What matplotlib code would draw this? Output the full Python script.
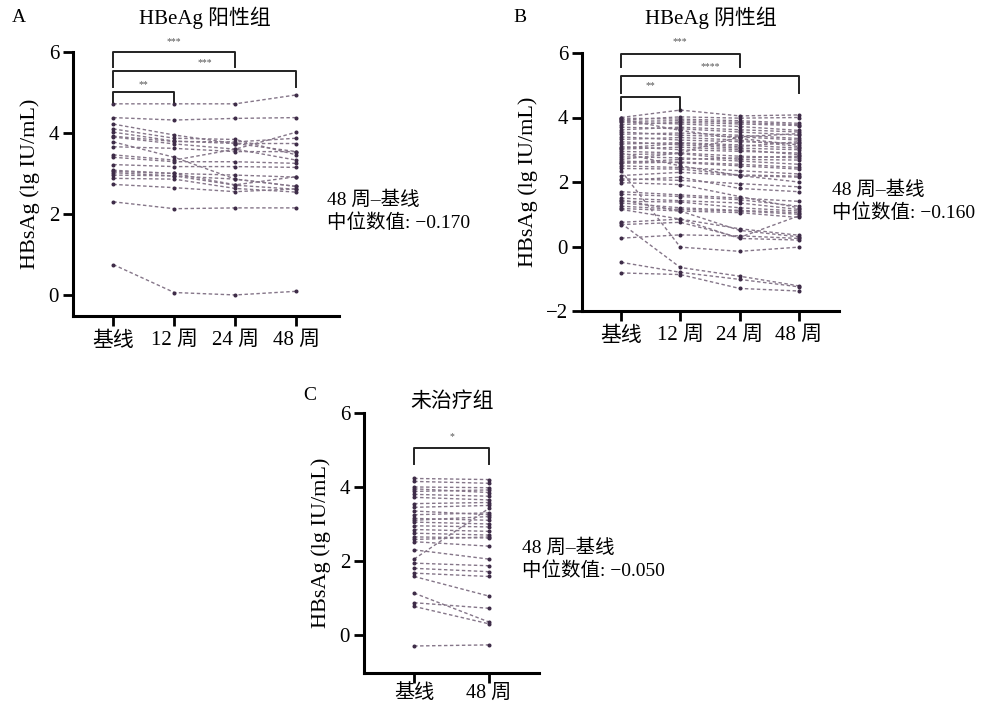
import numpy as np
import matplotlib
matplotlib.use("Agg")
import matplotlib.pyplot as plt

plt.rcParams['font.family'] = ['Liberation Serif', 'Noto Sans CJK SC']
plt.rcParams['axes.unicode_minus'] = True

# ---- data (HBsAg, lg IU/mL) ----
labels_a = ["基线", "12 周", "24 周", "48 周"]
pos_a = [
    [4.72, 4.72, 4.72, 4.94],
    [4.38, 4.32, 4.36, 4.38],
    [4.22, 3.95, 3.74, 3.54],
    [4.10, 3.87, 3.84, 3.46],
    [4.02, 3.80, 3.74, 3.74],
    [3.92, 3.79, 3.78, 3.87],
    [3.90, 3.73, 3.60, 3.33],
    [3.78, 3.40, 2.86, 2.68],
    [3.66, 3.62, 3.54, 3.54],
    [3.46, 3.33, 3.60, 4.02],
    [3.40, 3.29, 3.29, 3.25],
    [3.22, 3.17, 3.17, 3.15],
    [3.08, 3.00, 2.96, 2.91],
    [3.05, 3.00, 2.72, 2.92],
    [3.02, 2.94, 2.71, 2.61],
    [2.96, 2.94, 2.86, 2.68],
    [2.88, 2.86, 2.63, 2.54],
    [2.73, 2.65, 2.55, 2.62],
    [2.30, 2.13, 2.15, 2.15],
    [0.75, 0.06, 0.00, 0.09],
]

labels_b = ["基线", "12 周", "24 周", "48 周"]
neg_b = [
    [4.00, 4.23, 4.05, 4.08],
    [3.98, 3.95, 3.90, 3.82],
    [3.95, 3.60, 3.35, 3.15],
    [3.92, 4.02, 3.98, 4.00],
    [3.88, 3.90, 3.85, 3.78],
    [3.85, 3.80, 3.72, 3.60],
    [3.78, 3.85, 3.80, 3.75],
    [3.70, 3.65, 3.55, 3.45],
    [3.62, 3.70, 3.62, 3.55],
    [3.55, 3.45, 3.40, 3.30],
    [3.48, 3.52, 3.45, 3.35],
    [3.40, 3.30, 3.25, 3.20],
    [3.32, 3.38, 3.30, 3.10],
    [3.25, 3.15, 3.05, 3.00],
    [3.18, 3.22, 3.15, 3.05],
    [3.10, 3.00, 2.95, 2.90],
    [3.05, 3.20, 3.10, 3.25],
    [3.02, 3.08, 3.00, 2.85],
    [2.95, 2.90, 2.80, 2.75],
    [2.90, 2.50, 2.20, 2.00],
    [2.85, 2.88, 2.70, 2.68],
    [2.78, 2.75, 2.65, 2.55],
    [2.70, 2.90, 3.40, 3.50],
    [2.65, 2.60, 2.50, 2.40],
    [2.60, 2.70, 2.75, 2.80],
    [2.58, 2.62, 2.55, 2.45],
    [2.50, 2.45, 2.35, 2.25],
    [2.42, 2.40, 2.22, 2.18],
    [2.35, -0.02, -0.15, -0.02],
    [2.20, 2.30, 2.20, 2.15],
    [2.10, 2.05, 1.95, 1.85],
    [2.05, 2.15, 1.80, 1.70],
    [1.98, 1.92, 1.55, 1.20],
    [1.70, 1.60, 1.50, 1.40],
    [1.62, 1.55, 1.45, 1.25],
    [1.50, 1.42, 1.35, 1.15],
    [1.45, 1.10, 0.50, 0.30],
    [1.40, 1.38, 1.20, 1.10],
    [1.35, 1.20, 1.12, 1.05],
    [1.25, 1.15, 1.10, 1.00],
    [1.18, 1.10, 1.05, 0.90],
    [1.15, 0.85, 0.25, 0.20],
    [0.75, 0.85, 0.55, 0.35],
    [0.72, -0.65, -0.92, -1.22],
    [0.68, 0.75, 0.28, 0.95],
    [0.26, 0.36, 0.33, 0.25],
    [-0.49, -0.80, -1.02, -1.25],
    [-0.82, -0.87, -1.30, -1.38],
]

labels_c = ["基线", "48 周"]
untreated_c = [
    [4.23, 4.20], [4.15, 4.10], [4.00, 3.98], [3.95, 3.85], [3.88, 3.92],
    [3.80, 3.75], [3.72, 3.65], [3.55, 3.58], [3.45, 3.50], [3.35, 3.25],
    [3.25, 3.30], [3.15, 3.10], [3.10, 3.20], [3.05, 3.00], [2.95, 2.92],
    [2.85, 2.80], [2.75, 2.70], [2.65, 2.62], [2.58, 2.65], [2.52, 2.40],
    [2.30, 2.05], [2.05, 3.42], [1.94, 1.87], [1.80, 1.71], [1.67, 1.58],
    [1.58, 1.05], [1.13, 0.35], [0.87, 0.72], [0.77, 0.30], [-0.30, -0.27],
]

titles = ["HBeAg 阳性组", "HBeAg 阴性组", "未治疗组"]
medians = ["−0.170", "−0.160", "−0.050"]

# brackets: (i, j, top, leg_bottom, stars, star_y)
brackets_a = [(0, 2, 6.0, 5.63, "***", 6.25), (0, 3, 5.54, 5.14, "***", 5.73),
              (0, 1, 5.02, 4.77, "**", 5.19)]
brackets_b = [(0, 2, 5.96, 5.57, "***", 6.35), (0, 3, 5.29, 4.77, "****", 5.58),
              (0, 1, 4.63, 4.23, "**", 4.98)]
brackets_c = [(0, 1, 5.05, 4.62, "*", 5.35)]

W, H = 981, 704
fig = plt.figure(figsize=(W / 100, H / 100), dpi=100)

line_col = "#857689"
dot_col = "#3e2c48"
FS = 15


def px_axes(l, r, t, b):
    return fig.add_axes([l / W, 1 - b / H, (r - l) / W, (b - t) / H])


def draw_panel(ax, data, labels, brackets, ylim, xlim, yticks, xpad=4, xfs=FS):
    data = np.array(data)
    x = np.arange(data.shape[1])
    for row in data:
        ax.plot(x, row, ls=(0, (2.5, 1.8)), lw=1.0, color=line_col,
                marker="o", ms=1.9, mfc=dot_col, mec=dot_col, zorder=2)
    for i, j, top, leg, stars, sy in brackets:
        ax.plot([i, i, j, j], [leg, top, top, leg], color="#222222", lw=1.4,
                clip_on=False, zorder=3)
        ax.text((i + j) / 2, sy, stars, ha="center", va="center",
                fontsize=7, color="#555555")
    ax.set_xlim(*xlim)
    ax.set_ylim(*ylim)
    ax.set_xticks(x)
    ax.set_yticks(yticks)
    ax.tick_params(axis="both", labelsize=FS, width=2, length=7,
                   direction="out", pad=3)
    ax.set_xticklabels(labels, fontsize=xfs)
    ax.tick_params(axis="x", pad=xpad)
    for s in ["top", "right"]:
        ax.spines[s].set_visible(False)
    for s in ["left", "bottom"]:
        ax.spines[s].set_linewidth(2.2)
    ax.set_ylabel("HBsAg (lg IU/mL)", fontsize=16, labelpad=6)


ax_a = px_axes(73, 339, 52, 316)
draw_panel(ax_a, pos_a, labels_a, brackets_a, (-0.52, 6), (-0.66, 3.70), [0, 2, 4, 6])
ax_b = px_axes(582, 839, 53, 311)
draw_panel(ax_b, neg_b, labels_b, brackets_b, (-2, 6), (-0.66, 3.68), [-2, 0, 2, 4, 6])
ax_c = px_axes(364, 539, 413, 673)
draw_panel(ax_c, untreated_c, labels_c, brackets_c, (-1.03, 6), (-0.67, 1.67),
           [0, 2, 4, 6], xpad=1, xfs=14.5)

# panel letters, titles, annotations (pixel positions)
def ftext(x, y, s, **kw):
    fig.text(x / W, 1 - y / H, s, **kw)

ftext(12, 18, "A", fontsize=14, va="center")
ftext(513, 18, "B", fontsize=14, va="center")
ftext(303, 395, "C", fontsize=14, va="center")
ftext(205, 18, titles[0], fontsize=FS, ha="center", va="center")
ftext(711, 18, titles[1], fontsize=FS, ha="center", va="center")
ftext(452, 402, titles[2], fontsize=FS, ha="center", va="center")

for (x0, y0), med in zip([(327, 200), (832, 190), (522, 548)], medians):
    ftext(x0, y0, "48 周–基线", fontsize=14, va="center")
    ftext(x0, y0 + 23, "中位数值: " + med, fontsize=14, va="center")

fig.savefig("out.png", dpi=100)
